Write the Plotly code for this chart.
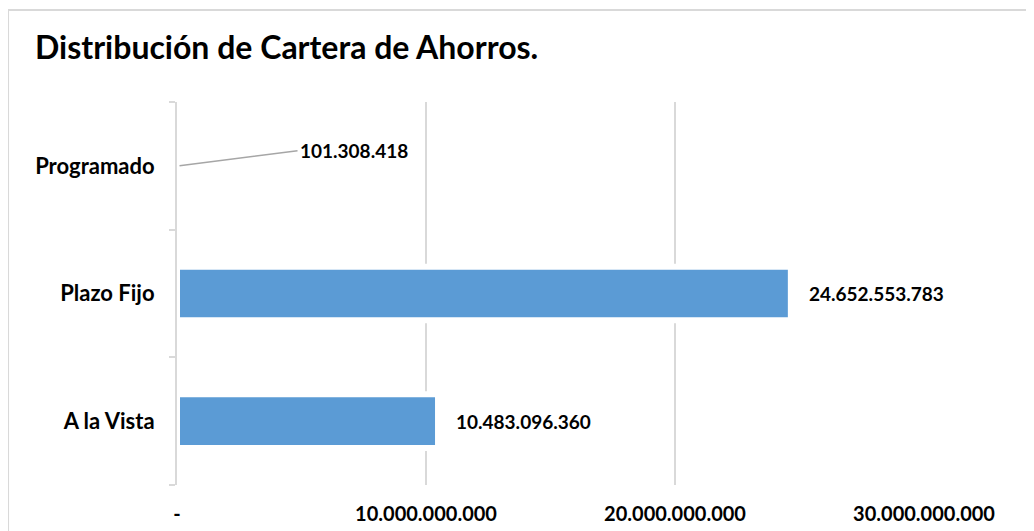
import plotly.graph_objects as go

categorias = ['A la Vista', 'Plazo Fijo', 'Programado']
saldos = [10483096360, 24652553783, 101308418]
etiquetas = ['10.483.096.360', '24.652.553.783', '101.308.418']
x_ticks = [0, 10000000000, 20000000000, 30000000000]
x_ticktext = ['-', '10.000.000.000', '20.000.000.000', '30.000.000.000']

fuente = 'Lato'
gris = '#d9d9d9'

# la página deja 8px de margen en el body: la figura se dibuja desde (8, 8)
W, H = 1026, 523

fig = go.Figure()
fig.add_trace(go.Bar(y=categorias, x=saldos, orientation='h',
                     marker_color='#5b9bd5', marker_line_color='white', marker_line_width=6,
                     width=0.42, hoverinfo='x+y'))

# etiquetas de valor
for cat, val, txt in zip(categorias, saldos, etiquetas):
    if cat == 'Programado':
        fig.add_annotation(x=val, y=cat, text=f'<b>{txt}</b>', showarrow=True,
                           arrowhead=0, arrowwidth=1.5, arrowcolor='#a6a6a6',
                           ax=118, ay=-15, xanchor='left', yanchor='middle',
                           font=dict(family=fuente, size=19, color='black'))
    else:
        fig.add_annotation(x=val, y=cat, text=f'<b>{txt}</b>', showarrow=False,
                           xanchor='left', xshift=16,
                           font=dict(family=fuente, size=19, color='black'))

# marco del gráfico
fig.add_shape(type='rect', xref='paper', yref='paper', x0=-0.2262, x1=1.2, y0=-0.2, y1=1.24,
              line=dict(color=gris, width=2), layer='below')

fig.update_layout(
    width=W, height=H,
    margin=dict(l=169, r=110, t=94, b=46),
    paper_bgcolor='white', plot_bgcolor='white',
    showlegend=False,
    title=dict(text='<b>Distribución de Cartera de Ahorros.</b>', x=27/W, xanchor='left',
               xref='container', y=1-40/H, yanchor='middle',
               font=dict(family=fuente, size=32, color='black')),
    font=dict(family=fuente, color='black'),
    xaxis=dict(range=[0, 30000000000], tickvals=x_ticks, ticktext=x_ticktext,
               showgrid=True, gridcolor=gris, gridwidth=2, zeroline=False,
               showline=False, ticks='', ticklabelstandoff=15, automargin=False,
               tickfont=dict(family=fuente, size=20, color='black', weight='bold')),
    yaxis=dict(showline=True, linecolor=gris, linewidth=2, ticks='outside', ticklen=6,
               tickcolor=gris, tickwidth=2, tickson='boundaries', showgrid=False,
               ticklabelstandoff=16, automargin=False,
               tickfont=dict(family=fuente, size=22, color='black', weight='bold')),
)

fig.write_html('out.html')
